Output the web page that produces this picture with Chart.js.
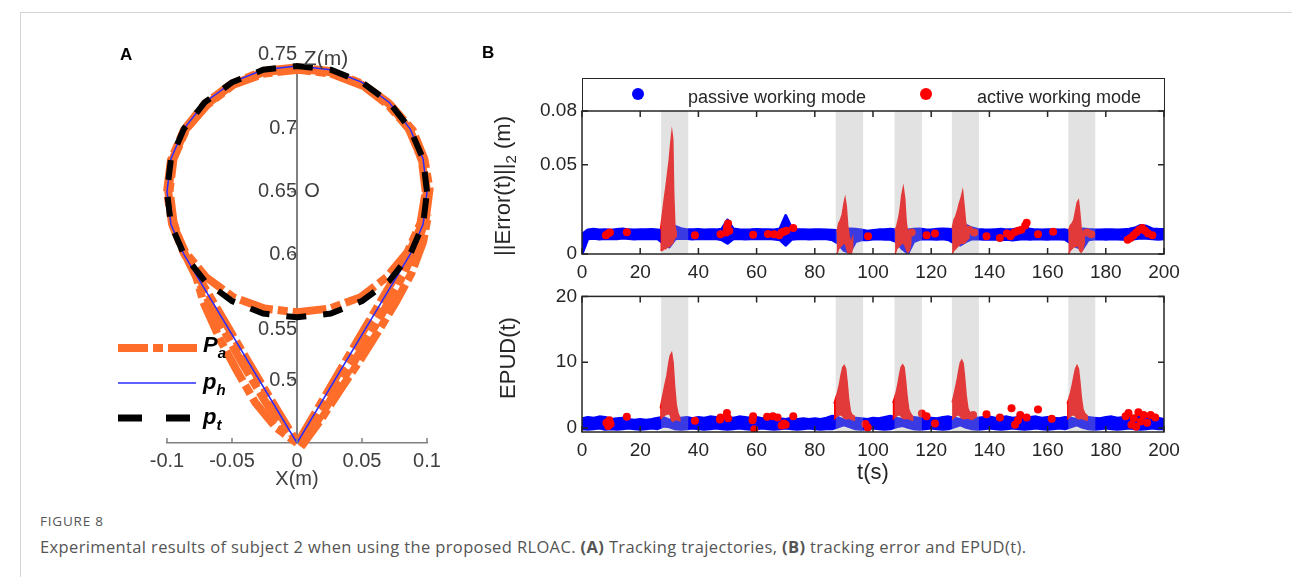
<!DOCTYPE html>
<html>
<head>
<meta charset="utf-8">
<script src="https://cdn.jsdelivr.net/npm/chart.js@4.4.1/dist/chart.umd.min.js"></script>
<style>
  body { margin: 0; width: 1292px; height: 577px; background: #fff; position: relative; overflow: hidden; font-family: "Liberation Sans", Arial, sans-serif; }
  .frame { position: absolute; left: 20px; top: 12px; right: -2px; bottom: -2px; border-top: 1px solid #d4d4d4; border-left: 1px solid #d4d4d4; }
  .box { position: absolute; }
  .t { position: absolute; white-space: nowrap; line-height: 1; color: #262626; }
  .c { transform: translate(-50%, -50%); }
  .rot { transform: translate(-50%, -50%) rotate(-90deg); }
  .lab { font-weight: bold; font-size: 17px; color: #000; }
  .leg { font-weight: bold; font-style: italic; font-size: 22px; color: #000; }
  .leg sub { font-size: 15px; vertical-align: -6px; }
  .dot { position: absolute; width: 12px; height: 12px; border-radius: 6px; }
  .cap1 { position: absolute; left: 40px; top: 512px; font-family: "Open Sans", sans-serif; font-size: 13.5px; color: #555; letter-spacing: 0.8px; }
  .cap2 { position: absolute; left: 40px; top: 535px; font-family: "Open Sans", sans-serif; font-size: 16.5px; color: #555; letter-spacing: 0.37px; white-space: nowrap; }
</style>
</head>
<body>
<div class="frame"></div>

<div class="box" style="left:100px;top:40px;width:350px;height:460px"><canvas id="chartA" width="350" height="460"></canvas></div>
<div class="box" style="left:480px;top:60px;width:720px;height:240px"><canvas id="chartErr" width="720" height="240"></canvas></div>
<div class="box" style="left:480px;top:280px;width:720px;height:200px"><canvas id="chartEpud" width="720" height="200"></canvas></div>

<div class="t lab" style="left:120px;top:46px">A</div>
<div class="t lab" style="left:482px;top:44px">B</div>

<div class="t c" style="left:326px;top:57px;font-size:21px;color:#404040">Z(m)</div>
<div class="t c" style="left:312px;top:190px;font-size:20px;color:#404040">O</div>
<div class="t c" style="left:297px;top:478px;font-size:20px;color:#404040">X(m)</div>

<svg class="box" style="left:110px;top:330px" width="100" height="100">
  <line x1="8" y1="18" x2="87" y2="18" stroke="#ff6d2a" stroke-width="8" stroke-dasharray="30 5 10 5"/>
  <line x1="8" y1="53" x2="86" y2="53" stroke="#2b2bff" stroke-width="1.5"/>
  <line x1="8" y1="88" x2="80" y2="88" stroke="#000" stroke-width="7" stroke-dasharray="24 24"/>
</svg>
<div class="t leg" style="left:203px;top:334px">P<sub>a</sub></div>
<div class="t leg" style="left:203px;top:371px">p<sub>h</sub></div>
<div class="t leg" style="left:203px;top:406px">p<sub>t</sub></div>

<div class="box" style="left:582px;top:78px;width:581px;height:33px;border:1.5px solid #262626;border-bottom:none"></div>
<div class="dot" style="left:632px;top:88px;background:#0000ff"></div>
<div class="t" style="left:688px;top:88px;font-size:18px">passive working mode</div>
<div class="dot" style="left:920px;top:88px;background:#ff0000"></div>
<div class="t" style="left:977px;top:88px;font-size:18px">active working mode</div>

<div class="t rot" style="left:505px;top:186px;font-size:22px">||Error(t)||<sub style="font-size:15px">2</sub> (m)</div>
<div class="t rot" style="left:508px;top:358px;font-size:22px">EPUD(t)</div>
<div class="t c" style="left:873px;top:472px;font-size:22px">t(s)</div>

<div class="cap1">FIGURE 8</div>
<div class="cap2">Experimental results of subject 2 when using the proposed RLOAC. <b>(A)</b> Tracking trajectories, <b>(B)</b> tracking error and EPUD(t).</div>

<script>
// ---------- panel A: trajectories, x and z in metres ----------
const xTicksA = [-0.1, -0.05, 0, 0.05, 0.1];
const zTicksA = [0.5, 0.55, 0.6, 0.65, 0.7, 0.75];

// target p_t (circle)
const ptX = [0.1, 0.097, 0.087, 0.071, 0.05, 0.026, 0, -0.026, -0.05, -0.071, -0.087, -0.097, -0.1, -0.097, -0.087, -0.071, -0.05, -0.026, 0, 0.026, 0.05, 0.071, 0.087, 0.097, 0.1];
const ptZ = [0.65, 0.676, 0.7, 0.721, 0.737, 0.747, 0.75, 0.747, 0.737, 0.721, 0.7, 0.676, 0.65, 0.624, 0.6, 0.579, 0.563, 0.553, 0.55, 0.553, 0.563, 0.579, 0.6, 0.624, 0.65];

// human p_h (teardrop)
const phX = [0, 0.087, 0.097, 0.1, 0.097, 0.087, 0.071, 0.05, 0.026, 0, -0.026, -0.05, -0.071, -0.087, -0.097, -0.1, -0.097, -0.087, 0];
const phZ = [0.45, 0.6, 0.624, 0.65, 0.676, 0.7, 0.721, 0.737, 0.747, 0.75, 0.747, 0.737, 0.721, 0.7, 0.676, 0.65, 0.624, 0.6, 0.45];

// actual P_a, several passes
const pa1X = [0.001, 0.018, 0.035, 0.052, 0.069, 0.086, 0.097, 0.1, 0.096, 0.086, 0.07, 0.05, 0.025, 0, -0.026, -0.05, -0.071, -0.087, -0.097, -0.1, -0.096, -0.087, -0.07, -0.053, -0.036, -0.018, -0.001];
const pa1Z = [0.451, 0.481, 0.511, 0.541, 0.571, 0.601, 0.626, 0.651, 0.676, 0.7, 0.721, 0.736, 0.746, 0.749, 0.746, 0.736, 0.72, 0.699, 0.675, 0.65, 0.624, 0.601, 0.572, 0.542, 0.512, 0.481, 0.452];
const pa2X = [0.004, 0.025, 0.043, 0.06, 0.077, 0.091, 0.099, 0.102, 0.098, 0.089, 0.072, 0.051, 0.026, 0.001, -0.025, -0.049, -0.069, -0.085, -0.095, -0.098, -0.095, -0.088, -0.076, -0.06, -0.043, -0.025, -0.006];
const pa2Z = [0.448, 0.483, 0.513, 0.543, 0.574, 0.604, 0.628, 0.652, 0.676, 0.699, 0.719, 0.734, 0.744, 0.747, 0.744, 0.735, 0.719, 0.7, 0.676, 0.651, 0.626, 0.604, 0.579, 0.547, 0.515, 0.484, 0.455];
const pa3X = [0.099, 0.096, 0.087, 0.07, 0.05, 0.026, 0, -0.026, -0.05, -0.07, -0.086, -0.096, -0.099, -0.096, -0.086, -0.07, -0.049, -0.025, 0, 0.025, 0.049, 0.069, 0.085, 0.095, 0.099];
const pa3Z = [0.65, 0.675, 0.699, 0.719, 0.735, 0.745, 0.748, 0.745, 0.735, 0.719, 0.699, 0.675, 0.65, 0.625, 0.602, 0.582, 0.566, 0.557, 0.554, 0.557, 0.566, 0.582, 0.602, 0.625, 0.65];
const pa4X = [-0.079, -0.072, -0.059, -0.046, -0.032, -0.016, 0];
const pa4Z = [0.588, 0.562, 0.532, 0.507, 0.482, 0.462, 0.45];
const pa5X = [0.003, 0.018, 0.033, 0.048, 0.062, 0.076, 0.088, 0.097, 0.101];
const pa5Z = [0.447, 0.468, 0.492, 0.515, 0.538, 0.562, 0.585, 0.61, 0.632];

// ---------- panel B: time series ----------
const tB = [0, 2, 4, 6, 8, 10, 12, 14, 16, 18, 20, 22, 24, 26, 28, 30, 32, 34, 36, 38,
  40, 42, 44, 46, 48, 50, 52, 54, 56, 58, 60, 62, 64, 66, 68, 70, 72, 74, 76, 78,
  80, 82, 84, 86, 88, 90, 92, 94, 96, 98, 100, 102, 104, 106, 108, 110, 112, 114, 116, 118,
  120, 122, 124, 126, 128, 130, 132, 134, 136, 138, 140, 142, 144, 146, 148, 150, 152, 154, 156, 158,
  160, 162, 164, 166, 168, 170, 172, 174, 176, 178, 180, 182, 184, 186, 188, 190, 192, 194, 196, 198, 200];

// passive mode error band (m)
const errLo = [0.0000, 0.0085, 0.0088, 0.0084, 0.0086, 0.0087, 0.0085, 0.0089, 0.0086, 0.0084,
  0.0086, 0.0085, 0.0087, 0.0085, 0.0060, 0.0040, 0.0085, 0.0088, 0.0086, 0.0084,
  0.0086, 0.0087, 0.0085, 0.0086, 0.0080, 0.0060, 0.0085, 0.0086, 0.0084, 0.0085,
  0.0087, 0.0085, 0.0086, 0.0084, 0.0080, 0.0050, 0.0082, 0.0085, 0.0086, 0.0084,
  0.0085, 0.0086, 0.0085, 0.0080, 0.0060, 0.0020, 0.0010, 0.0070, 0.0080, 0.0080,
  0.0084, 0.0085, 0.0083, 0.0082, 0.0070, 0.0030, 0.0005, 0.0070, 0.0082, 0.0085,
  0.0084, 0.0082, 0.0085, 0.0080, 0.0060, 0.0050, 0.0070, 0.0084, 0.0085, 0.0083,
  0.0082, 0.0084, 0.0080, 0.0083, 0.0078, 0.0082, 0.0085, 0.0083, 0.0085, 0.0084,
  0.0083, 0.0085, 0.0084, 0.0082, 0.0060, 0.0040, 0.0030, 0.0080, 0.0084, 0.0085,
  0.0083, 0.0085, 0.0084, 0.0083, 0.0080, 0.0085, 0.0090, 0.0088, 0.0085, 0.0083, 0.0085];
const errHi = [0.0110, 0.0135, 0.0138, 0.0134, 0.0136, 0.0133, 0.0137, 0.0140, 0.0135, 0.0134,
  0.0136, 0.0135, 0.0137, 0.0134, 0.0130, 0.0140, 0.0155, 0.0142, 0.0136, 0.0135,
  0.0137, 0.0134, 0.0136, 0.0135, 0.0138, 0.0190, 0.0140, 0.0136, 0.0134, 0.0135,
  0.0137, 0.0135, 0.0136, 0.0134, 0.0140, 0.0215, 0.0145, 0.0136, 0.0135, 0.0134,
  0.0136, 0.0135, 0.0134, 0.0133, 0.0130, 0.0135, 0.0140, 0.0138, 0.0134, 0.0128,
  0.0132, 0.0135, 0.0136, 0.0138, 0.0135, 0.0140, 0.0135, 0.0138, 0.0140, 0.0136,
  0.0134, 0.0138, 0.0140, 0.0138, 0.0135, 0.0145, 0.0160, 0.0145, 0.0137, 0.0135,
  0.0134, 0.0136, 0.0138, 0.0135, 0.0137, 0.0140, 0.0150, 0.0138, 0.0135, 0.0134,
  0.0136, 0.0135, 0.0134, 0.0135, 0.0130, 0.0135, 0.0140, 0.0137, 0.0135, 0.0134,
  0.0136, 0.0135, 0.0134, 0.0136, 0.0138, 0.0145, 0.0160, 0.0155, 0.0140, 0.0138, 0.0137];

// passive mode EPUD band
const epudLo = [-0.1, -0.2, -0.1, 0.0, -0.2, -0.1, -0.2, -0.1, 0.0, -0.1,
  -0.2, -0.1, 0.0, -0.1, 0.3, 0.2, -0.1, -0.2, -0.1, 0.0,
  -0.1, -0.2, -0.1, 0.0, -0.1, -0.2, -0.1, 0.0, -0.1, -0.2,
  -0.1, 0.0, -0.1, -0.2, -0.1, 0.0, -0.1, -0.2, -0.1, 0.0,
  -0.1, -0.2, -0.1, -0.1, 0.2, 0.5, 0.2, -0.1, -0.2, -0.1,
  0.0, -0.1, -0.2, -0.1, 0.2, 0.4, 0.1, -0.1, -0.2, -0.1,
  0.0, -0.1, -0.2, -0.1, 0.2, 0.5, 0.1, -0.1, -0.2, -0.1,
  0.0, -0.1, -0.2, -0.1, 0.0, -0.1, -0.2, -0.1, 0.0, -0.1,
  -0.2, -0.1, 0.0, -0.1, 0.2, 0.5, 0.1, -0.1, -0.2, -0.1,
  0.0, -0.1, -0.2, -0.1, 0.0, -0.1, -0.2, -0.1, 0.0, -0.1, -0.1];
const epudHi = [1.4, 1.6, 1.5, 1.7, 1.6, 1.3, 1.4, 1.5, 1.3, 1.2,
  1.3, 1.2, 1.3, 1.5, 1.6, 1.2, 1.4, 1.5, 1.6, 1.4,
  1.6, 1.5, 1.7, 1.6, 1.5, 1.6, 1.5, 1.7, 1.6, 1.5,
  1.6, 1.4, 1.6, 1.5, 1.4, 1.3, 1.5, 1.3, 1.4, 1.3,
  1.4, 1.3, 1.5, 1.8, 1.6, 1.2, 1.4, 1.5, 1.4, 1.3,
  1.5, 1.4, 1.6, 1.8, 1.5, 1.3, 1.4, 1.6, 1.5, 1.4,
  1.5, 1.4, 1.6, 1.7, 1.5, 1.3, 1.5, 1.6, 1.5, 1.6,
  1.7, 1.5, 1.6, 1.7, 1.5, 1.6, 1.5, 1.6, 1.7, 1.5,
  1.6, 1.5, 1.4, 1.6, 1.5, 1.3, 1.5, 1.6, 1.5, 1.4,
  1.6, 1.7, 1.5, 1.6, 1.8, 1.7, 1.6, 1.7, 1.6, 1.5, 1.3];

// active windows (grey)
const winStart = [27.2, 87.2, 107.4, 127.1, 167.1];
const winEnd = [36.5, 96.6, 116.8, 136.4, 176.4];

// active mode bursts: times, upper and lower envelope
const errSpikeT = [
  [27.0, 27.6, 28.2, 28.8, 29.4, 30.0, 30.5, 30.9, 31.2, 31.5, 31.9, 32.4],
  [87.6, 88.2, 88.8, 89.4, 90.0, 90.4, 90.8, 91.3, 91.8, 92.4, 93.0],
  [107.6, 108.2, 108.8, 109.4, 109.9, 110.4, 110.9, 111.4, 111.9, 112.5, 113.0],
  [127.2, 127.8, 128.4, 129.0, 129.6, 130.2, 130.8, 131.3, 131.8, 132.4, 133.0],
  [167.2, 167.8, 168.4, 169.0, 169.6, 170.2, 170.6, 171.0, 171.5, 172.0, 172.6]];
const errSpikeHi = [
  [0.014, 0.022, 0.030, 0.037, 0.045, 0.053, 0.062, 0.068, 0.064, 0.035, 0.016, 0.012],
  [0.012, 0.017, 0.019, 0.022, 0.028, 0.031, 0.027, 0.016, 0.010, 0.006, 0.009],
  [0.013, 0.016, 0.020, 0.026, 0.033, 0.037, 0.031, 0.018, 0.012, 0.010, 0.011],
  [0.014, 0.019, 0.021, 0.024, 0.028, 0.031, 0.035, 0.027, 0.018, 0.014, 0.012],
  [0.013, 0.016, 0.017, 0.019, 0.024, 0.029, 0.030, 0.024, 0.015, 0.012, 0.011]];
const errSpikeLo = [
  [0.002, 0.002, 0.003, 0.003, 0.004, 0.004, 0.005, 0.006, 0.006, 0.008, 0.009, 0.010],
  [0.000, 0.003, 0.004, 0.005, 0.006, 0.006, 0.004, 0.001, -0.001, -0.001, 0.004],
  [0.000, 0.003, 0.004, 0.005, 0.006, 0.006, 0.005, 0.003, 0.001, 0.002, 0.006],
  [0.000, 0.002, 0.003, 0.004, 0.005, 0.006, 0.006, 0.006, 0.007, 0.008, 0.009],
  [0.000, 0.002, 0.003, 0.004, 0.004, 0.005, 0.004, 0.002, 0.001, 0.002, 0.006]];

const epudSpikeT = [
  [26.9, 27.4, 28.0, 28.6, 29.2, 29.8, 30.3, 30.8, 31.3, 31.8, 32.4, 33.0, 33.6],
  [86.6, 87.2, 87.8, 88.4, 89.0, 89.6, 90.1, 90.6, 91.1, 91.6, 92.2, 92.8, 93.6],
  [106.8, 107.4, 108.0, 108.6, 109.2, 109.7, 110.2, 110.7, 111.2, 111.7, 112.3, 112.9, 113.6],
  [127.2, 127.8, 128.4, 129.0, 129.5, 130.0, 130.5, 131.0, 131.5, 132.0, 132.6, 133.3, 134.2],
  [166.7, 167.3, 167.9, 168.5, 169.1, 169.6, 170.1, 170.6, 171.1, 171.6, 172.2, 172.8, 173.6]];
const epudSpikeHi = [
  [3.0, 4.2, 5.5, 6.8, 8.0, 9.8, 11.0, 11.4, 10.0, 6.5, 3.5, 2.2, 1.6],
  [3.7, 4.6, 5.4, 6.5, 8.0, 9.2, 9.5, 9.0, 7.0, 4.5, 2.6, 2.0, 1.8],
  [3.8, 4.6, 5.5, 6.8, 8.3, 9.3, 9.6, 9.2, 7.2, 4.8, 2.8, 2.2, 1.8],
  [3.9, 5.0, 6.2, 7.5, 8.8, 9.9, 10.3, 9.8, 7.6, 5.0, 3.0, 2.3, 2.0],
  [3.7, 4.5, 5.4, 6.6, 8.0, 9.0, 9.5, 9.0, 7.0, 4.6, 2.8, 2.2, 1.9]];
const epudSpikeLo = [
  [1.4, 1.6, 1.8, 2.0, 2.1, 2.2, 2.0, 1.2, 1.0, 1.2, 1.3, 1.2, 1.1],
  [1.3, 1.6, 1.8, 2.0, 2.0, 1.8, 1.5, 1.4, 1.4, 1.5, 1.4, 1.3, 1.2],
  [1.3, 1.6, 1.8, 2.0, 2.0, 1.8, 1.5, 1.4, 1.4, 1.5, 1.4, 1.3, 1.2],
  [1.3, 1.6, 1.8, 2.0, 2.0, 1.8, 1.5, 1.4, 1.4, 1.5, 1.5, 1.4, 1.3],
  [1.3, 1.6, 1.8, 2.0, 2.0, 1.8, 1.5, 1.4, 1.4, 1.5, 1.4, 1.3, 1.2]];

// scattered active mode samples
const errDotT = [8.2, 9.0, 9.6, 15.4, 38.8, 47.6, 49.5, 49.8, 50.2, 50.6, 58.8, 63.9, 66.0, 67.8, 68.6, 69.4, 70.2, 72.6, 98.3, 113.3, 118.4, 121.3, 133.0, 134.8, 139.0, 143.6, 146.0, 147.2, 148.5, 149.8, 151.0, 152.3, 152.8, 156.7, 161.9, 173.5, 175.0, 187.5, 188.5, 189.5, 190.5, 191.5, 192.5, 193.5, 194.5, 196.0];
const errDotV = [0.0105, 0.0115, 0.012, 0.0122, 0.0105, 0.011, 0.012, 0.015, 0.017, 0.013, 0.0108, 0.0112, 0.011, 0.0105, 0.012, 0.0125, 0.013, 0.0145, 0.010, 0.012, 0.0105, 0.0115, 0.0135, 0.012, 0.010, 0.009, 0.0115, 0.010, 0.012, 0.013, 0.0135, 0.016, 0.0175, 0.011, 0.0125, 0.012, 0.011, 0.008, 0.009, 0.0105, 0.012, 0.0135, 0.0145, 0.013, 0.0115, 0.0105];
const epudDotT = [8.4, 9.0, 9.4, 9.8, 15.4, 38.8, 47.4, 47.6, 49.8, 50.2, 58.6, 58.8, 59.2, 63.6, 65.6, 67.2, 68.6, 69.4, 70.0, 72.6, 97.4, 98.2, 116.8, 118.4, 121.3, 134.4, 139.0, 143.6, 147.6, 148.8, 149.8, 150.6, 152.8, 156.7, 161.4, 186.8, 187.8, 188.8, 189.6, 190.4, 191.2, 192.0, 193.0, 194.2, 195.4, 197.0];
const epudDotV = [0.8, 0.3, 1.2, 0.6, 1.7, 1.1, 1.3, 1.6, 2.3, 1.5, 1.2, 1.8, -0.2, 1.7, 1.8, 1.6, 0.4, 0.7, 0.5, 1.8, 0.6, 0.1, 2.2, 1.8, 0.7, 2.0, 2.1, 1.6, 3.0, 0.5, 1.2, 2.0, 1.6, 2.8, 1.4, 1.8, 2.3, 0.5, 1.5, 0.2, 2.4, 1.0, 2.0, 0.8, 2.0, 1.6];

const errTicks = [0, 0.05, 0.08];
const epudTicks = [0, 10, 20];

// ---------- helpers ----------
const orange = '#ff6d2a';
const blue = '#0000ff';
const red = '#ff0000';
const axisTxt = '#262626';

const pts = (xs, ys) => xs.map((v, i) => ({x: v, y: ys[i]}));

// MATLAB style box with inward ticks
const boxFrame = {
  id: 'boxFrame',
  afterDraw(chart) {
    const {ctx, chartArea: a, scales: {x, y}} = chart;
    ctx.save();
    ctx.strokeStyle = axisTxt;
    ctx.lineWidth = 1.5;
    ctx.strokeRect(a.left, a.top, a.right - a.left, a.bottom - a.top);
    ctx.beginPath();
    x.ticks.forEach(t => {
      const px = x.getPixelForValue(t.value);
      ctx.moveTo(px, a.bottom); ctx.lineTo(px, a.bottom - 6);
      ctx.moveTo(px, a.top); ctx.lineTo(px, a.top + 6);
    });
    y.ticks.forEach(t => {
      const py = y.getPixelForValue(t.value);
      ctx.moveTo(a.left, py); ctx.lineTo(a.left + 6, py);
      ctx.moveTo(a.right, py); ctx.lineTo(a.right - 6, py);
    });
    ctx.stroke();
    ctx.restore();
  }
};

// grey active windows, drawn over the data with some transparency
const windowShade = {
  id: 'windowShade',
  afterDatasetsDraw(chart) {
    const {ctx, chartArea: a, scales: {x}} = chart;
    ctx.save();
    ctx.fillStyle = 'rgba(170,170,170,0.34)';
    for (let i = 0; i < winStart.length; i++) {
      const x0 = x.getPixelForValue(winStart[i]);
      const x1 = x.getPixelForValue(winEnd[i]);
      ctx.fillRect(x0, a.top, x1 - x0, a.bottom - a.top);
    }
    ctx.restore();
  }
};

// upward ticks on the X axis of panel A
const upTicks = {
  id: 'upTicks',
  afterDraw(chart) {
    const {ctx, chartArea: a, scales: {x}} = chart;
    ctx.save();
    ctx.strokeStyle = '#808080';
    ctx.lineWidth = 1.5;
    ctx.beginPath();
    x.ticks.forEach(t => {
      const px = x.getPixelForValue(t.value);
      ctx.moveTo(px, a.bottom); ctx.lineTo(px, a.bottom - 5);
    });
    ctx.stroke();
    ctx.restore();
  }
};

// ---------- chart A ----------
const paPasses = [[pa1X, pa1Z, 0], [pa2X, pa2Z, 14], [pa3X, pa3Z, 7], [pa4X, pa4Z, 20], [pa5X, pa5Z, 3]];

new Chart(document.getElementById('chartA'), {
  type: 'scatter',
  data: {
    datasets: [
      {label: 'p_t', data: pts(ptX, ptZ), showLine: true, borderColor: '#000', borderWidth: 6, borderDash: [20, 17], pointRadius: 0, clip: false},
      {label: 'p_h', data: pts(phX, phZ), showLine: true, borderColor: '#2b2bff', borderWidth: 1.5, pointRadius: 0, clip: false},
      ...paPasses.map(([xs, zs, off]) => ({
        label: 'P_a', data: pts(xs, zs), showLine: true, borderColor: orange, borderWidth: 8,
        borderDash: [34, 5, 10, 5], borderDashOffset: off, pointRadius: 0, clip: false
      }))
    ]
  },
  options: {
    responsive: false,
    animation: false,
    events: [],
    layout: {padding: {left: 67, right: 23, top: 25, bottom: 17}},
    plugins: {legend: {display: false}, tooltip: {enabled: false}},
    scales: {
      x: {
        type: 'linear', min: -0.1, max: 0.1,
        afterBuildTicks: s => { s.ticks = xTicksA.map(v => ({value: v})); },
        afterFit: s => { s.height = 40; },
        grid: {display: false, drawTicks: false},
        border: {color: '#808080', width: 1.5},
        ticks: {color: '#404040', font: {size: 20, family: 'Liberation Sans'}, padding: 6, maxRotation: 0, callback: v => String(v)}
      },
      y: {
        type: 'linear', min: 0.45, max: 0.75,
        position: {x: 0},
        afterBuildTicks: s => { s.ticks = zTicksA.map(v => ({value: v})); },
        grid: {drawOnChartArea: false, drawTicks: true, tickLength: 5, color: '#808080', lineWidth: 1.5},
        border: {color: '#808080', width: 2},
        ticks: {
          color: '#404040', font: {size: 20, family: 'Liberation Sans'}, padding: 2,
          // top and 0.55 labels sit a little off their tick, as in the figure
          callback: v => v === 0.75 ? ['0.75', ''] : v === 0.55 ? ['', '0.55'] : String(v)
        }
      }
    }
  },
  plugins: [upTicks]
});

// ---------- chart B (shared builder) ----------
function timeChart(id, lo, hi, spikeT, spikeHi, spikeLo, dotT, dotV, yMin, yMax, yTicks, pad) {
  const spikes = spikeT.map((ts, k) => ({
    data: pts(ts, spikeHi[k]).concat(pts(ts, spikeLo[k]).reverse()),
    showLine: true, fill: 'shape', backgroundColor: red, borderColor: red, borderWidth: 1.5, pointRadius: 0
  }));
  return new Chart(document.getElementById(id), {
    type: 'scatter',
    data: {
      datasets: [
        {label: 'active working mode', data: pts(dotT, dotV), pointRadius: 4, backgroundColor: red, borderWidth: 0},
        ...spikes,
        {label: 'passive lo', data: pts(tB, lo), showLine: true, borderColor: blue, borderWidth: 3, pointRadius: 0, borderJoinStyle: 'round'},
        {label: 'passive working mode', data: pts(tB, hi), showLine: true, borderColor: blue, backgroundColor: blue, borderWidth: 3, pointRadius: 0, borderJoinStyle: 'round', fill: '-1'}
      ]
    },
    options: {
      responsive: false,
      animation: false,
      events: [],
      layout: {padding: pad},
      plugins: {legend: {display: false}, tooltip: {enabled: false}},
      scales: {
        x: {
          type: 'linear', min: 0, max: 200,
          ticks: {stepSize: 20, color: axisTxt, font: {size: 19, family: 'Liberation Sans'}, padding: 7, maxRotation: 0},
          afterFit: s => { s.height = 40; },
          grid: {display: false, drawTicks: false},
          border: {display: false}
        },
        y: {
          type: 'linear', min: yMin, max: yMax,
          afterBuildTicks: s => { s.ticks = yTicks.map(v => ({value: v})); },
          afterFit: s => { s.width = 102; },
          ticks: {color: axisTxt, font: {size: 19, family: 'Liberation Sans'}, padding: 5, callback: v => String(v)},
          grid: {display: false, drawTicks: false},
          border: {display: false}
        }
      }
    },
    plugins: [windowShade, boxFrame]
  });
}

timeChart('chartErr', errLo, errHi, errSpikeT, errSpikeHi, errSpikeLo, errDotT, errDotV, 0, 0.08, errTicks,
  {left: 0, right: 36, top: 51, bottom: 6});
timeChart('chartEpud', epudLo, epudHi, epudSpikeT, epudSpikeHi, epudSpikeLo, epudDotT, epudDotV, -0.6, 20, epudTicks,
  {left: 0, right: 36, top: 10, bottom: 8});
</script>
</body>
</html>
